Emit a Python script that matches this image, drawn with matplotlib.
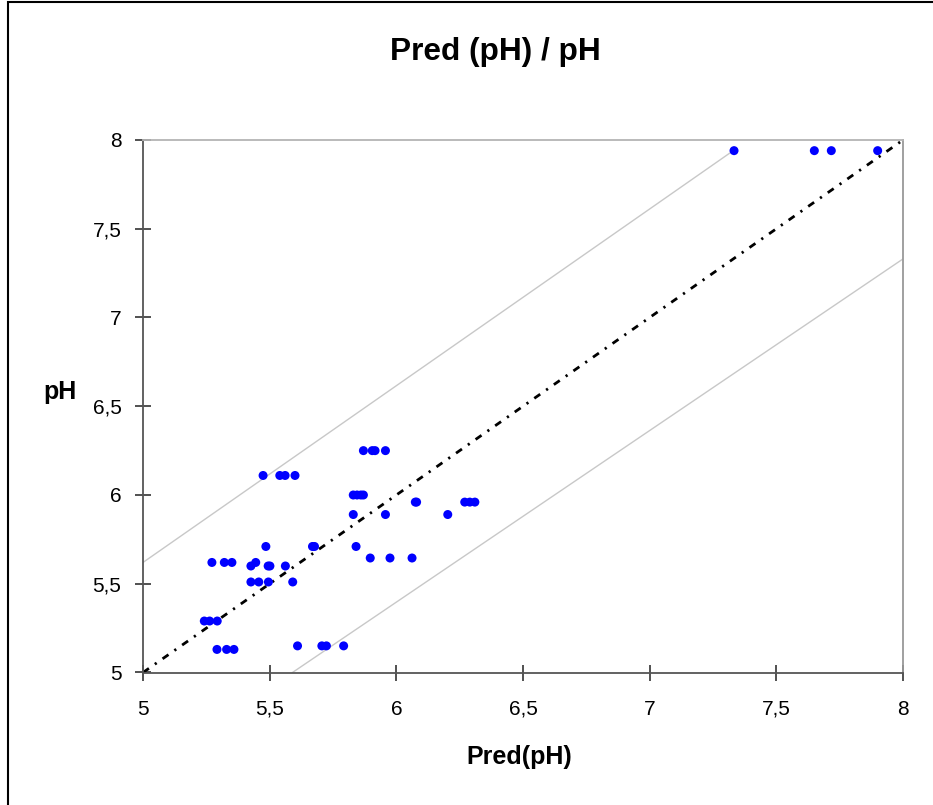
import matplotlib.pyplot as plt
from matplotlib.patches import Rectangle

plt.rcParams['font.family'] = ['Liberation Sans', 'DejaVu Sans']

# Данные: предсказанный pH и измеренный pH
pred_ph = [7.333, 7.650, 7.717, 7.900,
           5.870, 5.905, 5.916, 5.957,
           5.474, 5.540, 5.561, 5.600,
           5.830, 5.845, 5.860, 5.870,
           6.075, 6.080, 6.270, 6.290, 6.310,
           5.830, 5.957, 6.203,
           5.485, 5.669, 5.677, 5.841,
           5.897, 5.975, 6.062,
           5.272, 5.321, 5.351, 5.445,
           5.426, 5.494, 5.501, 5.562,
           5.426, 5.457, 5.495, 5.591,
           5.242, 5.263, 5.293,
           5.610, 5.706, 5.724, 5.792,
           5.292, 5.330, 5.359]
ph = [7.94] * 4 + [6.25] * 4 + [6.11] * 4 + [6.00] * 4 + [5.96] * 5 + \
     [5.89] * 3 + [5.71] * 4 + [5.645] * 3 + [5.62] * 4 + [5.60] * 4 + \
     [5.51] * 4 + [5.29] * 3 + [5.15] * 4 + [5.13] * 3

# Линия тренда и границы
trend_x = [5.0, 8.0]
trend_y = [5.0, 8.0]
upper_x = [5.0, 7.33]
upper_y = [5.62, 7.94]
lower_x = [5.59, 8.0]
lower_y = [5.0, 7.33]

ticks = [5, 5.5, 6, 6.5, 7, 7.5, 8]
tick_labels = ['5', '5,5', '6', '6,5', '7', '7,5', '8']

W, H = 933, 805
fig = plt.figure(figsize=(W / 100, H / 100), dpi=100)
ax = fig.add_axes([143 / W, 1 - 672.5 / H, 760 / W, 532.5 / H])

ax.plot(upper_x, upper_y, color='#c8c8c8', lw=1.0, zorder=1)
ax.plot(lower_x, lower_y, color='#c8c8c8', lw=1.0, zorder=1)
ax.plot(trend_x, trend_y, color='black', lw=2.0,
        linestyle=(0, (2.6, 2.6, 0.8, 2.6)), zorder=2)
ax.scatter(pred_ph, ph, s=42, color='#0000ff', edgecolors='none', zorder=3)

ax.set_xlim(5, 8)
ax.set_ylim(5, 8)
ax.set_xticks(ticks)
ax.set_xticklabels(tick_labels)
ax.set_yticks(ticks)
ax.set_yticklabels(tick_labels)
ax.tick_params(axis='both', direction='inout', length=11, width=1.2,
               color='#333333', labelsize=15)
ax.tick_params(axis='x', pad=14)
ax.tick_params(axis='y', pad=10)

ax.spines['left'].set_color('#555555')
ax.spines['bottom'].set_color('#555555')
ax.spines['left'].set_linewidth(1.3)
ax.spines['bottom'].set_linewidth(1.3)
ax.spines['top'].set_color('#b4b4b4')
ax.spines['right'].set_color('#999999')
ax.spines['top'].set_linewidth(1.3)
ax.spines['right'].set_linewidth(1.3)

fig.text(495 / W, 1 - 52 / H, 'Pred (pH) / pH', ha='center', va='center',
         fontsize=22.8, fontweight='bold')
fig.text(519 / W, 1 - 757 / H, 'Pred(pH)', ha='center', va='center',
         fontsize=18, fontweight='bold')
fig.text(60 / W, 1 - 392 / H, 'pH', ha='center', va='center',
         fontsize=18, fontweight='bold')

# Рамка вокруг диаграммы
fig.add_artist(Rectangle((8 / W, -0.1), 1.2, 1.1 - 2 / H, fill=False,
                         edgecolor='black', lw=1.5, transform=fig.transFigure,
                         clip_on=False))

fig.savefig('out.png', dpi=100)
